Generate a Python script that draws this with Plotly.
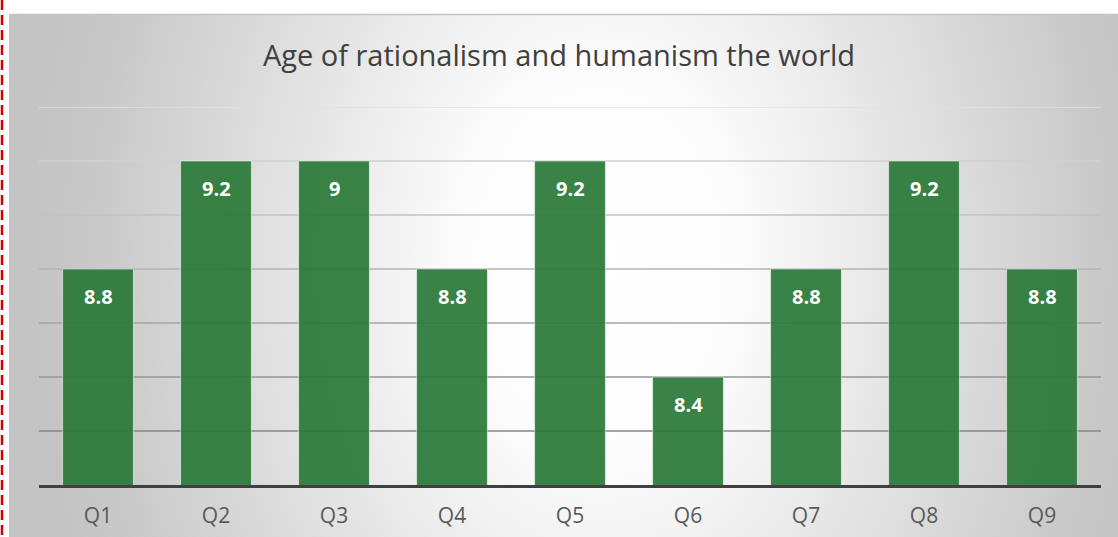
import base64
import plotly.graph_objects as go

categories = ["Q1", "Q2", "Q3", "Q4", "Q5", "Q6", "Q7", "Q8", "Q9"]
values = [8.8, 9.2, 9.2, 8.8, 9.2, 8.4, 8.8, 9.2, 8.8]
value_labels = ["8.8", "9.2", "9", "8.8", "9.2", "8.4", "8.8", "9.2", "8.8"]
title_text = "Age of rationalism and humanism the world"
y_min, y_max, y_step = 8.0, 9.4, 0.2

W, H = 1118, 537
L, R, T, B = 39, 17, 107, 52
pw, ph = W - L - R, H - T - B


def px_to_paper_x(px):
    return (px - L) / pw


def px_to_paper_y(py):
    return (H - B - py) / ph


svg = (
    '<svg xmlns="http://www.w3.org/2000/svg" width="1109" height="523" viewBox="0 0 1109 523" preserveAspectRatio="none">'
    '<defs><radialGradient id="g" gradientUnits="userSpaceOnUse" cx="590" cy="250" r="560" '
    'gradientTransform="translate(590 250) scale(1 1.4) translate(-590 -250)">'
    '<stop offset="0" stop-color="#ffffff"/>'
    '<stop offset="0.25" stop-color="#fcfcfc"/>'
    '<stop offset="0.55" stop-color="#e4e4e4"/>'
    '<stop offset="0.9" stop-color="#c9c9c9"/>'
    '<stop offset="1" stop-color="#c4c4c4"/>'
    '</radialGradient></defs>'
    '<rect x="0" y="0" width="1109" height="523" fill="url(#g)"/></svg>'
)
bg_uri = "data:image/svg+xml;base64," + base64.b64encode(svg.encode()).decode()

fig = go.Figure()
fig.add_trace(go.Bar(
    x=categories, y=values, base=0,
    marker=dict(color="rgba(40,120,54,0.92)", line=dict(color="rgba(255,255,255,0.55)", width=1)),
    width=0.6, hoverinfo="skip",
))

for q, v, t in zip(categories, values, value_labels):
    fig.add_annotation(x=q, y=v, text=f"<b>{t}</b>", showarrow=False, yshift=-27,
                       font=dict(family="Open Sans", size=20, color="white"))

# gridlines from axis tick values, shaded darker toward the bottom
n = round((y_max - y_min) / y_step)
shapes = []
for i in range(1, n + 1):
    gv = y_min + i * y_step
    f = (i - 1) / (n - 1)
    c = int(0x86 + (0xe0 - 0x86) * f)
    shapes.append(dict(type="line", xref="paper", yref="y", x0=0, x1=1, y0=gv, y1=gv,
                       line=dict(color=f"rgb({c},{c},{c})", width=1.3), layer="below"))
# chart border details
shapes.append(dict(type="line", xref="paper", yref="paper",
                   x0=px_to_paper_x(9), x1=px_to_paper_x(W), y0=px_to_paper_y(14.5), y1=px_to_paper_y(14.5),
                   line=dict(color="#c4c4c4", width=1.5)))
shapes.append(dict(type="line", xref="paper", yref="paper",
                   x0=px_to_paper_x(2), x1=px_to_paper_x(2), y0=px_to_paper_y(0), y1=px_to_paper_y(H),
                   line=dict(color="#d40000", width=2.5, dash="10px,5px")))

fig.update_layout(
    width=W, height=H,
    margin=dict(l=L, r=R, t=T, b=B),
    paper_bgcolor="white", plot_bgcolor="rgba(0,0,0,0)",
    showlegend=False,
    title=dict(text=title_text, x=0.5, xanchor="center", y=1 - 56 / H, yanchor="middle",
               font=dict(family="Open Sans", size=29, color="#404040"), automargin=False),
    xaxis=dict(showgrid=False, showline=True, linecolor="#404040", linewidth=3,
               tickfont=dict(family="Open Sans", size=21, color="#595959"), ticks="",
               ticklabelstandoff=10, automargin=False, fixedrange=True),
    yaxis=dict(range=[y_min, y_max], showgrid=False, showticklabels=False, zeroline=False,
               automargin=False, fixedrange=True),
    shapes=shapes,
    images=[dict(source=bg_uri, xref="paper", yref="paper",
                 x=px_to_paper_x(9), y=px_to_paper_y(14), sizex=(W - 9) / pw, sizey=(H - 14) / ph,
                 xanchor="left", yanchor="top", sizing="stretch", layer="below")],
)

fig.write_html("out.html", config={"displayModeBar": False},
               post_script="document.body.style.margin='0';document.body.style.overflow='hidden';")
